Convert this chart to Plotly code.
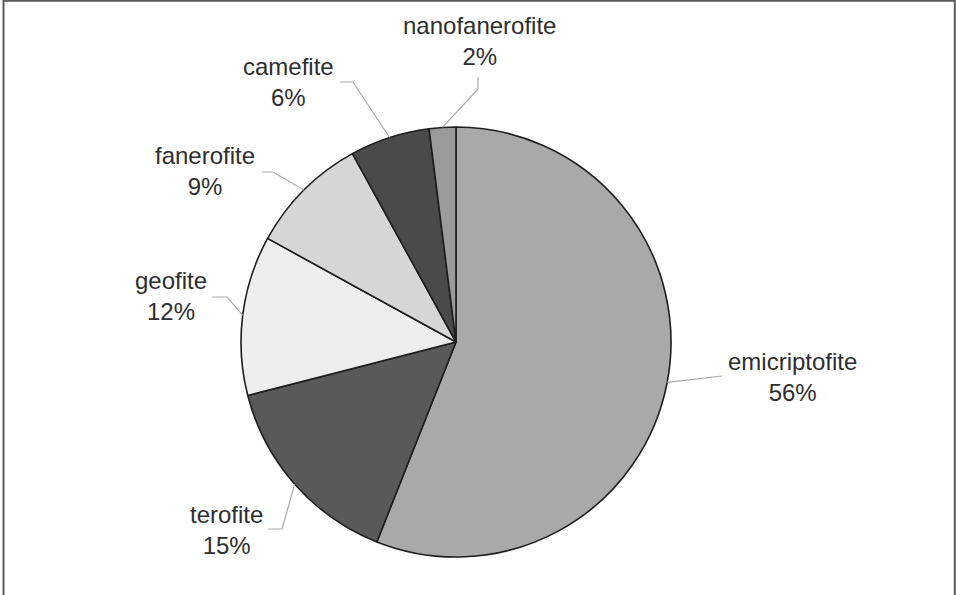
import math
import plotly.graph_objects as go

# Life-form spectrum (percent of species)
categories = ["emicriptofite", "terofite", "geofite", "fanerofite", "camefite", "nanofanerofite"]
values = [56, 15, 12, 9, 6, 2]

colors = ["#a8a9ab", "#58595b", "#eeeeef", "#d6d6d8", "#4a4a4a", "#9b9b9d"]

W, H = 956, 595
CX, CY, R = 456, 342, 215

# label block centres and leader-line elbows, in pixels
label_pos = {
    "emicriptofite": (792, 377),
    "terofite": (226, 530),
    "geofite": (171, 296),
    "fanerofite": (205, 171),
    "camefite": (288, 82),
    "nanofanerofite": (479, 41),
}
leader_path = {
    "emicriptofite": [(722, 376)],
    "terofite": [(282, 529), (268, 529)],
    "geofite": [(227, 297), (212, 297)],
    "fanerofite": [(273, 172), (262, 172)],
    "camefite": [(353, 82), (340, 82)],
    "nanofanerofite": [(478, 89), (478, 77)],
}


def px(x):
    return x / W


def py(y):
    return 1 - y / H


fig = go.Figure(
    go.Pie(
        labels=categories,
        values=values,
        sort=False,
        direction="clockwise",
        rotation=0,
        textinfo="none",
        hoverinfo="label+percent",
        marker=dict(colors=colors, line=dict(color="#1e1e1e", width=1.6)),
        domain=dict(x=[px(CX - R), px(CX + R)], y=[py(CY + R), py(CY - R)]),
        showlegend=False,
    )
)

total = sum(values)
shapes = []
annotations = []
cum = 0
for name, v in zip(categories, values):
    mid = (cum + v / 2) / total * 2 * math.pi
    cum += v
    sx = CX + R * math.sin(mid)
    sy = CY - R * math.cos(mid)
    pts = [(sx, sy)] + leader_path[name]
    path = "M " + " L ".join(f"{px(x):.5f},{py(y):.5f}" for x, y in pts)
    shapes.append(dict(type="path", xref="paper", yref="paper", path=path,
                       line=dict(color="#a9a9a9", width=1.2)))
    lx, ly = label_pos[name]
    annotations.append(dict(
        x=px(lx), y=py(ly), xref="paper", yref="paper",
        text=f"{name}<br>{round(v / total * 100)}%",
        showarrow=False, xanchor="center", yanchor="middle", align="center",
        font=dict(family="Liberation Sans, Arial, sans-serif", size=24, color="#2e2e2e"),
    ))

# outer frame
shapes.append(dict(type="path", xref="paper", yref="paper",
                   path=f"M {px(3.5)},{py(600)} L {px(3.5)},{py(0.8)} L {px(954.8)},{py(0.8)} L {px(954.8)},{py(600)}",
                   line=dict(color="#5a5a5a", width=2)))

fig.update_layout(
    width=W, height=H,
    margin=dict(l=0, r=0, t=0, b=0),
    paper_bgcolor="white",
    plot_bgcolor="white",
    shapes=shapes,
    annotations=annotations,
)

fig.write_html("out.html")
